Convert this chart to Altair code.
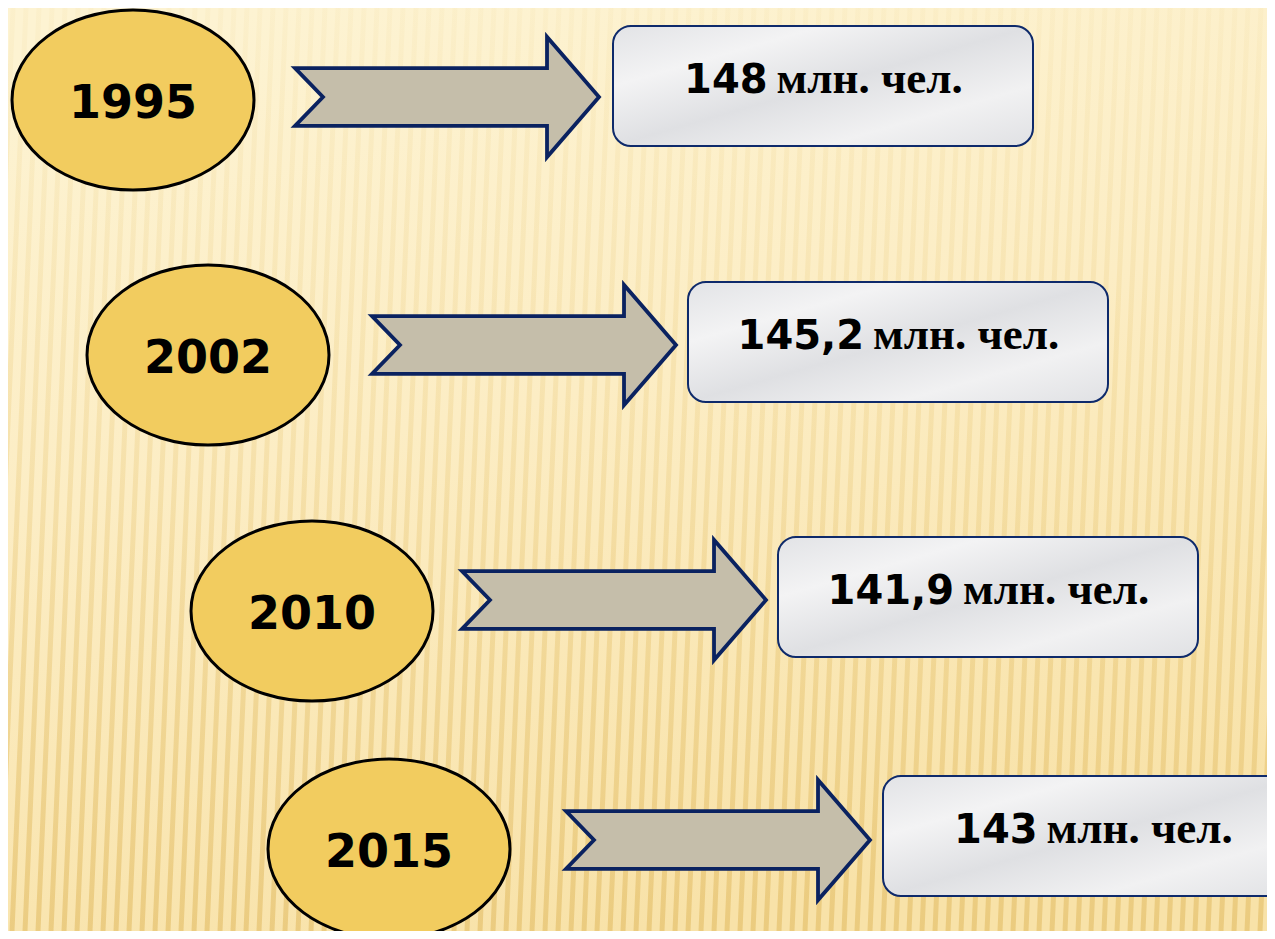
import altair as alt
import pandas as pd
import numpy as np

# ---------------- data ----------------
years = ["1995", "2002", "2010", "2015"]
population = ["148", "145,2", "141,9", "143"]
unit = "млн. чел."

# ---------------- layout (page pixel coordinates) ----------------
W, H = 1259, 923
ELL_CX = [133, 208, 312, 389]
ELL_CY = [100, 355, 611, 849]
ELL_W, ELL_H = 242, 180
ARR_X0 = [295, 372, 462, 566]
ARR_CY = [97, 345, 600, 840]
ARR_W = 304
BOX_X0 = [613, 688, 778, 883]
BOX_Y0 = [26, 282, 537, 776]
BOX_W, BOX_H = 420, 120

NUM_FS = 40
UNIT_FS = 45
YEAR_FS = 46
GAP = 9


def num_width(s):
    w = 0.0
    for ch in s:
        w += 0.38 * NUM_FS if ch == "," else 0.696 * NUM_FS
    return w


UNIT_W = 4.12 * UNIT_FS

xs = alt.Scale(domain=[8, 8 + W], zero=False, nice=False)
ys = alt.Scale(domain=[8, 8 + H], zero=False, nice=False, reverse=True)

rows = []
for i in range(len(years)):
    bcx = BOX_X0[i] + BOX_W / 2
    nw = num_width(population[i])
    split = bcx - (nw + GAP + UNIT_W) / 2 + nw
    rows.append(dict(
        year=years[i], pop=population[i], unit=unit,
        ex=ELL_CX[i], ey=ELL_CY[i], ety=ELL_CY[i] + 18,
        ax=ARR_X0[i] + ARR_W / 2, ay=ARR_CY[i],
        bx=BOX_X0[i], bx2=BOX_X0[i] + BOX_W,
        by=BOX_Y0[i], by2=BOX_Y0[i] + BOX_H,
        nx=split, ux=split + GAP, ty=BOX_Y0[i] + 67,
    ))
df = pd.DataFrame(rows)

# ---------------- background ----------------
bg = alt.Chart(pd.DataFrame({"a": [0]})).mark_rect(
    fill=alt.LinearGradient(
        gradient="linear", x1=0.2, y1=0, x2=0.5, y2=1,
        stops=[alt.GradientStop(color="#FDF3D2", offset=0),
               alt.GradientStop(color="#FCEDC4", offset=0.45),
               alt.GradientStop(color="#F8E2A8", offset=1)]),
).encode(x=alt.value(0), x2=alt.value(W), y=alt.value(0), y2=alt.value(H))

sx = np.arange(-40, 1275, 13)
stripes_df = pd.DataFrame({"x": sx, "x2": sx + 40, "y": 8 + H, "y2": 8})
stripes = alt.Chart(stripes_df).mark_rule(
    strokeWidth=5, clip=True,
    stroke=alt.LinearGradient(
        gradient="linear", x1=0, y1=0, x2=0, y2=1,
        stops=[alt.GradientStop(color="rgba(232,200,120,0.08)", offset=0),
               alt.GradientStop(color="rgba(232,198,115,0.28)", offset=0.45),
               alt.GradientStop(color="rgba(226,188,100,0.60)", offset=1)]),
).encode(
    x=alt.X("x:Q", scale=xs, axis=None), x2="x2:Q",
    y=alt.Y("y:Q", scale=ys, axis=None), y2="y2:Q",
)

base = alt.Chart(df)

ELL_PATH = "M -1 0 A 1 %.3f 0 1 1 1 0 A 1 %.3f 0 1 1 -1 0 Z" % (ELL_H / ELL_W, ELL_H / ELL_W)
ellipses = base.mark_point(
    shape=ELL_PATH, size=ELL_W ** 2, filled=True, fill="#F2CC5F",
    stroke="#000000", strokeWidth=3, opacity=1, fillOpacity=1, strokeOpacity=1,
).encode(x=alt.X("ex:Q", scale=xs, axis=None), y=alt.Y("ey:Q", scale=ys, axis=None))

year_text = base.mark_text(
    font="DejaVu Sans", fontWeight="bold", fontSize=YEAR_FS, color="#000000",
    align="center", baseline="alphabetic",
).encode(x=alt.X("ex:Q", scale=xs, axis=None), y=alt.Y("ety:Q", scale=ys, axis=None),
         text="year:N")

ARR_PATH = ("M -1 -0.19 L 0.658 -0.19 L 0.658 -0.395 L 1 0 L 0.658 0.395 "
            "L 0.658 0.19 L -1 0.19 L -0.816 0 Z")
arrows = base.mark_point(
    shape=ARR_PATH, size=ARR_W ** 2, filled=True, fill="#C5BEAA",
    stroke="#0A2260", strokeWidth=3.8, opacity=1, fillOpacity=1, strokeOpacity=1,
    strokeJoin="miter",
).encode(x=alt.X("ax:Q", scale=xs, axis=None), y=alt.Y("ay:Q", scale=ys, axis=None))

boxes = base.mark_rect(
    cornerRadius=18, stroke="#0E2A6B", strokeWidth=2,
    fill=alt.LinearGradient(
        gradient="linear", x1=0, y1=0, x2=1, y2=1,
        stops=[alt.GradientStop(color="#E2E3E6", offset=0),
               alt.GradientStop(color="#F3F3F4", offset=0.25),
               alt.GradientStop(color="#DFE0E3", offset=0.5),
               alt.GradientStop(color="#F1F1F2", offset=0.75),
               alt.GradientStop(color="#E0E1E4", offset=1)]),
).encode(
    x=alt.X("bx:Q", scale=xs, axis=None), x2="bx2:Q",
    y=alt.Y("by:Q", scale=ys, axis=None), y2="by2:Q",
)

num_text = base.mark_text(
    font="DejaVu Sans", fontWeight="bold", fontSize=NUM_FS, color="#000000",
    align="right", baseline="alphabetic",
).encode(x=alt.X("nx:Q", scale=xs, axis=None), y=alt.Y("ty:Q", scale=ys, axis=None),
         text="pop:N")

unit_text = base.mark_text(
    font="Liberation Serif", fontWeight="bold", fontSize=UNIT_FS, color="#000000",
    align="left", baseline="alphabetic",
).encode(x=alt.X("ux:Q", scale=xs, axis=None), y=alt.Y("ty:Q", scale=ys, axis=None),
         text="unit:N")

chart = alt.layer(
    bg, stripes, ellipses, year_text, arrows, boxes, num_text, unit_text
).properties(
    width=W, height=H,
    autosize=alt.AutoSizeParams(type="none"),
    padding=0,
    background="#FCEFC8",
).configure_view(stroke="transparent")

chart.save("out.html", embed_options={"renderer": "svg", "actions": False})
